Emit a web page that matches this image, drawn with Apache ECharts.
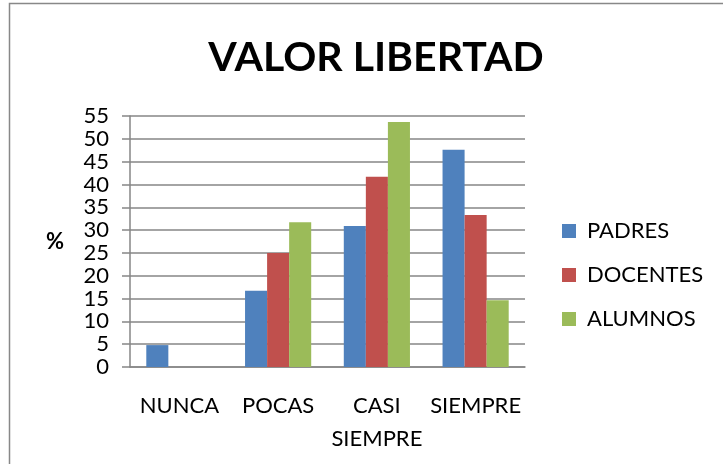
<!DOCTYPE html>
<html><head><meta charset="utf-8">
<script src="https://cdn.jsdelivr.net/npm/echarts@6/dist/echarts.min.js"></script>
<style>html,body{margin:0;padding:0;background:#fff}#c{width:723px;height:464px}</style>
</head><body><div id="c"></div>
<script>
const categories = ['NUNCA', 'POCAS', 'CASI\nSIEMPRE', 'SIEMPRE'];
const padres = [4.8, 16.7, 30.9, 47.6];
const docentes = [0, 25, 41.7, 33.3];
const alumnos = [0, 31.7, 53.7, 14.6];
const seriesNames = ['PADRES', 'DOCENTES', 'ALUMNOS'];
const colors = ['#4F81BD', '#C0504D', '#9BBB59'];
const FONT = 'Lato';
const chart = echarts.init(document.getElementById('c'));
const mk = (name, data, i) => ({
  name, type: 'bar', data, barGap: '0%', barCategoryGap: '33%',
  itemStyle: { color: colors[i] }
});
chart.setOption({
  animation: false,
  backgroundColor: '#fff',
  graphic: [{ type: 'rect', shape: { x: 9.5, y: 3.5, width: 760, height: 500 }, style: { fill: 'none', stroke: '#888', lineWidth: 1.5 } }],
  title: { text: 'VALOR LIBERTAD', left: 371, top: 32, textAlign: 'center',
    textStyle: { fontFamily: FONT, fontWeight: 'bold', fontSize: 41, color: '#000' } },
  legend: {
    orient: 'vertical', left: 557, top: 215, itemGap: 22, itemWidth: 14, itemHeight: 14,
    icon: 'rect', textStyle: { fontFamily: FONT, fontSize: 22, color: '#000', padding: [0, 0, 0, 6] },
    data: seriesNames
  },
  grid: { left: 130, right: 198, top: 116, bottom: 97, containLabel: false },
  xAxis: {
    type: 'category', data: categories,
    axisLine: { lineStyle: { color: '#868686', width: 1.5 } },
    axisTick: { show: false },
    axisLabel: { fontFamily: FONT, fontSize: 22, color: '#000', margin: 22, lineHeight: 33, interval: 0 }
  },
  yAxis: {
    type: 'value', min: 0, max: 55, interval: 5,
    name: '%', nameLocation: 'middle', nameRotate: 0, nameGap: 66,
    nameTextStyle: { fontFamily: FONT, fontSize: 22, fontWeight: 'bold', color: '#000' },
    axisLine: { show: true, lineStyle: { color: '#868686', width: 1.5 } },
    axisTick: { show: true, length: 8, lineStyle: { color: '#868686', width: 1.5 } },
    axisLabel: { fontFamily: FONT, fontSize: 22, color: '#000', margin: 21 },
    splitLine: { lineStyle: { color: '#868686', width: 1.5 } }
  },
  series: [mk(seriesNames[0], padres, 0), mk(seriesNames[1], docentes, 1), mk(seriesNames[2], alumnos, 2)]
});
</script></body></html>
